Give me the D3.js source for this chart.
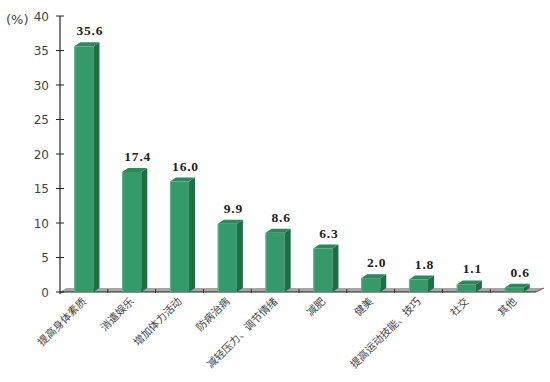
<!DOCTYPE html>
<html><head><meta charset="utf-8">
<script src="https://cdn.jsdelivr.net/npm/d3@7"></script>
<style>body{margin:0;background:#fff}svg{display:block}</style>
</head><body>
<svg id="c" width="550" height="382"></svg>
<script>
const categories = ["提高身体素质","消遣娱乐","增加体力活动","防病治病","减轻压力、调节情绪","减肥","健美","提高运动技能、技巧","社交","其他"];
const values = [35.6, 17.4, 16.0, 9.9, 8.6, 6.3, 2.0, 1.8, 1.1, 0.6];
const yTicks = [0, 5, 10, 15, 20, 25, 30, 35, 40];

const svg = d3.select("#c");
const x0 = 60, x1 = 538, yTop = 16, yBot = 292;
const dx = 6, dy = 4;
const x = d3.scaleBand().domain(categories).range([x0, x1]).paddingInner(0.6).paddingOuter(0.3);
const xb = d3.scaleBand().domain(categories).range([x0, x1]);
const y = d3.scaleLinear().domain([0, 40]).range([yBot, yTop]);

// floor
svg.append("path")
  .attr("d", `M${x0},${yBot} L${x0+dx},${yBot-dy} L${x1+dx},${yBot-dy} L${x1-2},${yBot} Z`)
  .attr("fill", "#a6a6a6");
svg.append("line").attr("x1", x0).attr("x2", x1-2).attr("y1", yBot).attr("y2", yBot)
  .attr("stroke", "#222").attr("stroke-width", 1.2);
svg.append("line").attr("x1", x1-2).attr("x2", x1+dx).attr("y1", yBot).attr("y2", yBot-dy)
  .attr("stroke", "#555").attr("stroke-width", 1);
svg.append("g").selectAll("line").data(categories.slice(1)).join("line")
  .attr("x1", d => xb(d)).attr("x2", d => xb(d))
  .attr("y1", yBot-3).attr("y2", yBot+1)
  .attr("stroke", "#333").attr("stroke-width", 1);

// y axis
const ya = svg.append("g");
ya.append("line").attr("x1", x0).attr("x2", x0).attr("y1", yTop).attr("y2", yBot+2)
  .attr("stroke", "#222").attr("stroke-width", 1.2);
ya.selectAll("line.t").data(yTicks).join("line").attr("class","t")
  .attr("x1", x0-4).attr("x2", x0+4).attr("y1", d => y(d)).attr("y2", d => y(d))
  .attr("stroke", "#222").attr("stroke-width", 1);
ya.selectAll("text").data(yTicks).join("text")
  .attr("x", x0-11).attr("y", d => y(d)+4.5)
  .attr("text-anchor", "end")
  .attr("font-family", "'DejaVu Sans', sans-serif").attr("font-size", 12).attr("fill", "#444")
  .text(d => d);
svg.append("text").attr("x", 6).attr("y", 24)
  .attr("font-family", "'DejaVu Sans', sans-serif").attr("font-size", 13).attr("fill", "#444")
  .text("(%)");

// bars
const bw = x.bandwidth();
const g = svg.append("g");
const bars = g.selectAll("g.bar").data(categories).join("g").attr("class","bar");
bars.append("rect")
  .attr("x", d => x(d)).attr("y", (d,i) => y(values[i]))
  .attr("width", bw).attr("height", (d,i) => yBot - y(values[i]))
  .attr("fill", "#35996a");
bars.append("path")
  .attr("d", (d,i) => { const xr = x(d)+bw, yt = y(values[i]);
    return `M${xr},${yt} L${xr+dx},${yt-dy} L${xr+dx},${yBot-dy} L${xr},${yBot} Z`; })
  .attr("fill", "#1f6c46");
bars.append("path")
  .attr("d", (d,i) => { const xl = x(d), yt = y(values[i]);
    return `M${xl},${yt} L${xl+dx},${yt-dy} L${xl+bw+dx},${yt-dy} L${xl+bw},${yt} Z`; })
  .attr("fill", "#2b8a5b");
bars.append("line")
  .attr("x1", d => x(d)+0.5).attr("x2", d => x(d)+0.5)
  .attr("y1", (d,i) => y(values[i])).attr("y2", yBot)
  .attr("stroke", "#5dbb8a").attr("stroke-width", 1);

// value labels
bars.append("text")
  .attr("x", d => x(d) + bw/2 + 6)
  .attr("y", (d,i) => y(values[i]) - 11)
  .attr("text-anchor", "middle")
  .attr("font-family", "'Liberation Serif', 'DejaVu Serif', serif")
  .attr("font-weight", "bold").attr("font-size", 13.5).attr("fill", "#222")
  .attr("letter-spacing", 0.8)
  .text((d,i) => values[i].toFixed(1));

// category labels
svg.append("g").selectAll("text").data(categories).join("text")
  .attr("transform", d => `translate(${x(d)+bw/2+3},${yBot+10}) rotate(-45)`)
  .attr("text-anchor", "end")
  .attr("font-family", "'Noto Sans CJK SC', sans-serif").attr("font-size", 10.5).attr("fill", "#444")
  .text(d => d);
</script>
</body></html>
